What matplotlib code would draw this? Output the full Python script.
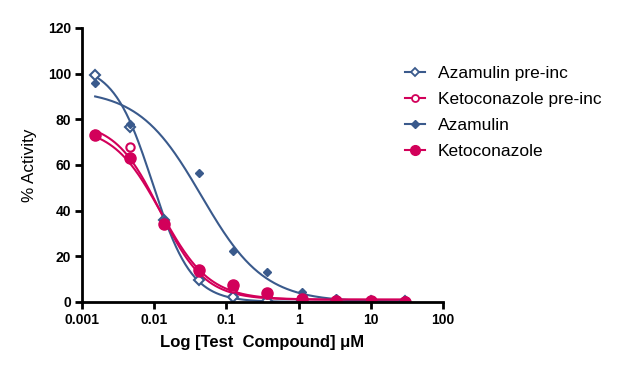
import numpy as np
import matplotlib
matplotlib.use('Agg')
import matplotlib.pyplot as plt

plt.rcParams['font.family'] = ['Liberation Sans', 'DejaVu Sans']

# concentrations (uM), 3-fold dilution series
conc = [0.00152, 0.00457, 0.0137, 0.0412, 0.123, 0.370, 1.11, 3.33, 10.0, 30.0]

aza_pre = [99.5, 76.5, 36.0, 9.5, 2.0, 0.5, 0.3, 0.2, 0.2, 0.2]
keto_pre = [73.0, 68.0, 34.5, 13.0, 6.0, 3.5, 1.2, 0.5, 0.3, 0.2]
aza = [96.0, 78.0, 36.0, 56.5, 22.5, 13.0, 4.5, 1.8, 0.8, 0.4]
keto = [73.0, 63.0, 34.0, 14.0, 7.5, 4.0, 1.5, 0.5, 0.2, 0.1]

# fitted 4PL parameters: top, bottom, IC50, hill
fit_aza_pre = (104.0, 0.0, 0.0095, 1.6)
fit_keto_pre = (79.0, 1.0, 0.012, 1.4)
fit_aza = (93.0, 0.0, 0.045, 1.0)
fit_keto = (77.0, 1.0, 0.0125, 1.3)

blue = '#3a5a8c'
pink = '#d2005a'


def curve(p, x):
    top, bot, ic50, h = p
    return bot + (top - bot) / (1 + (x / ic50) ** h)


xs = np.logspace(np.log10(conc[0]), np.log10(conc[-1]), 300)

fig = plt.figure(figsize=(6.19, 3.66), dpi=100)
ax = fig.add_axes([0.1325, 0.175, 0.583, 0.749])

ax.plot(xs, curve(fit_aza_pre, xs), color=blue, lw=1.5)
ax.plot(xs, curve(fit_keto_pre, xs), color=pink, lw=1.5)
ax.plot(xs, curve(fit_aza, xs), color=blue, lw=1.5)
ax.plot(xs, curve(fit_keto, xs), color=pink, lw=1.5)

ax.plot(conc, aza_pre, ls='none', marker='D', ms=5, mfc='white', mec=blue, mew=1.5)
ax.plot(conc, keto_pre, ls='none', marker='o', ms=6, mfc='white', mec=pink, mew=1.5)
ax.plot(conc, aza, ls='none', marker='D', ms=4.5, color=blue)
ax.plot(conc, keto, ls='none', marker='o', ms=8, color=pink)

# legend handles
h1, = ax.plot([], [], color=blue, lw=1.5, marker='D', ms=4, mfc='white', mec=blue, mew=1.3)
h2, = ax.plot([], [], color=pink, lw=1.5, marker='o', ms=5, mfc='white', mec=pink, mew=1.3)
h3, = ax.plot([], [], color=blue, lw=1.5, marker='D', ms=4)
h4, = ax.plot([], [], color=pink, lw=1.5, marker='o', ms=7)
fig.legend([h1, h2, h3, h4], ['Azamulin pre-inc', 'Ketoconazole pre-inc', 'Azamulin', 'Ketoconazole'],
           loc='upper left', bbox_to_anchor=(405 / 619, 0.82), frameon=False, fontsize=12.5,
           handlelength=1.15, labelspacing=0.63, handletextpad=0.75, borderpad=0, borderaxespad=0)

ax.set_xscale('log')
ax.set_xlim(0.001, 100)
ax.set_ylim(0, 120)
ax.set_yticks([0, 20, 40, 60, 80, 100, 120])
ax.set_xticks([0.001, 0.01, 0.1, 1, 10, 100])
ax.set_xticklabels(['0.001', '0.01', '0.1', '1', '10', '100'])
ax.xaxis.set_minor_locator(matplotlib.ticker.NullLocator())

for s in ['top', 'right']:
    ax.spines[s].set_visible(False)
for s in ['left', 'bottom']:
    ax.spines[s].set_linewidth(2)
ax.tick_params(direction='out', length=5, width=2, labelsize=10, pad=3)
for lab in ax.get_xticklabels() + ax.get_yticklabels():
    lab.set_fontweight('bold')

ax.set_xlabel('Log [Test  Compound] \u03bcM', fontsize=12, fontweight='bold', labelpad=6)
ax.set_ylabel('% Activity', fontsize=12.3, labelpad=8)

fig.savefig('out.png', dpi=100)
